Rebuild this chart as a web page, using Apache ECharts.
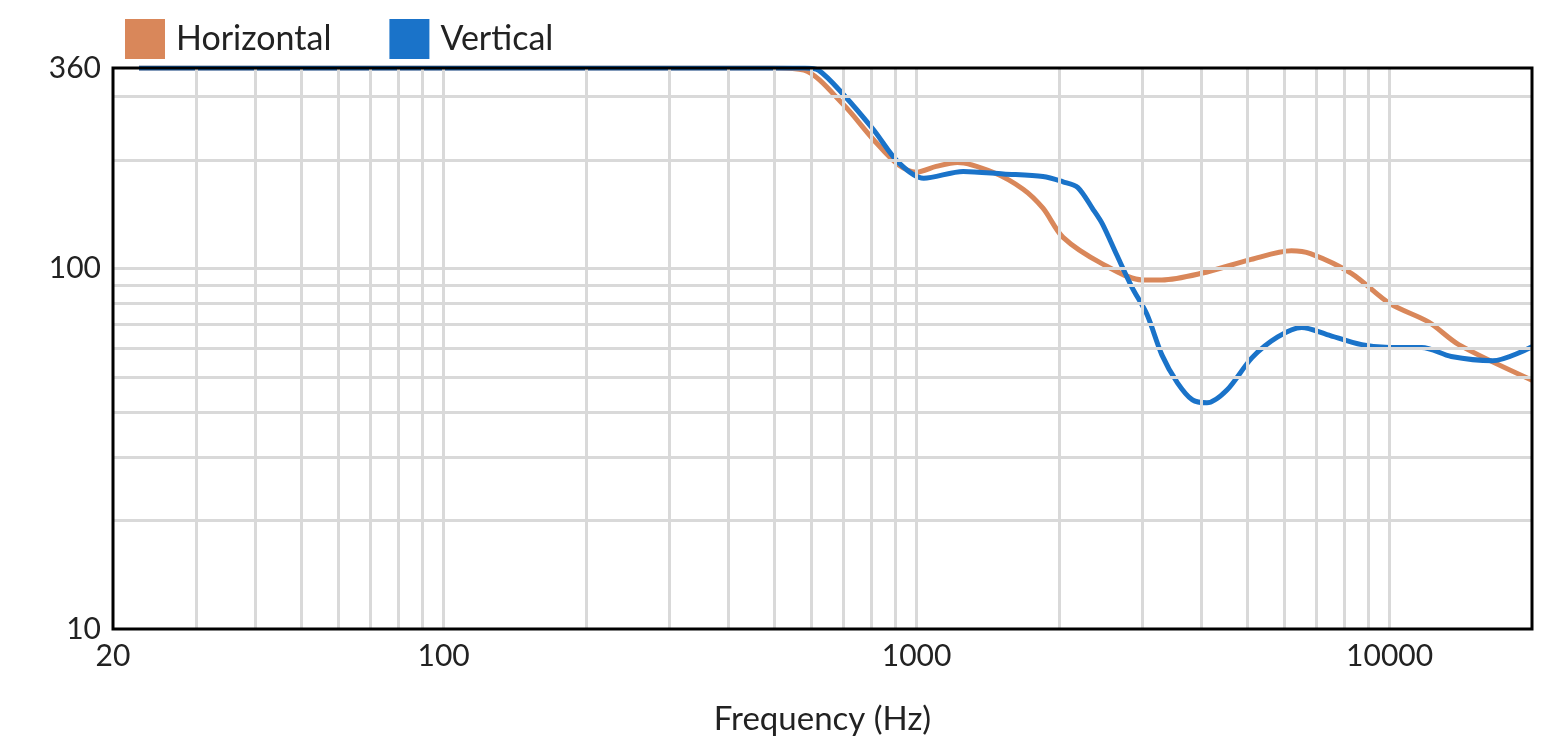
<!DOCTYPE html><html><head><meta charset="utf-8"><script src="https://cdn.jsdelivr.net/npm/echarts@6/dist/echarts.min.js"></script></head><body style="margin:0"><div id="c" style="width:1561px;height:741px"></div><script>
const horizontal=[[22.7,360],[500,360],[578,355],[700,285],[810,228],[915,194],[1000,185],[1100,192],[1220,197],[1450,185],[1680,166],[1850,147],[2040,122],[2470,103],[3000,93],[3300,93],[4000,97],[5100,106],[6200,112],[6800,110],[8300,97],[10000,80],[12100,71],[14000,61.5],[20000,49]];
const vertical=[[22.7,360],[580,360],[620,355],[700,304],[810,243],[915,197],[1035,178],[1255,186],[1525,183],[1850,180],[2040,174],[2190,168],[2360,146],[2470,133],[2650,109],[2850,89],[3070,74.5],[3300,57.6],[3560,48.2],[3830,43.2],[4110,42.4],[4530,46],[5120,56.6],[5800,64.6],[6520,68.6],[7370,65.6],[8730,61.5],[10000,60.4],[11700,60.4],[13500,57],[16500,55.5],[20000,60.7]];
const xGrid=[30,40,50,60,70,80,90,100,200,300,400,500,600,700,800,900,1000,2000,3000,4000,5000,6000,7000,8000,9000,10000];
const yGrid=[20,30,40,50,60,70,80,90,100,200,300];
const xTickLabels=[20,100,1000,10000];
const yTickLabels=[10,100,360];
const F='Lato, "DejaVu Sans", sans-serif';
const gl={color:'#d9d9d9',width:3,type:'solid'};
const c=echarts.init(document.getElementById('c'));
c.setOption({animation:false,
legend:{left:120,top:14,itemWidth:40,itemHeight:40,itemGap:58,textStyle:{fontSize:34,fontFamily:F,color:'#222',padding:[0,0,0,6]},data:[{name:'Horizontal',icon:'rect'},{name:'Vertical',icon:'rect'}]},
grid:{left:113,right:29,top:68,bottom:104,show:true,borderColor:'#000',borderWidth:3,z:10},
xAxis:{type:'log',min:20,max:20000,axisLabel:{show:false},axisTick:{show:false},splitLine:{show:false},axisLine:{show:false},name:'Frequency (Hz)',nameLocation:'middle',nameGap:74,nameTextStyle:{fontSize:33,fontFamily:F,color:'#222'}},
yAxis:{type:'log',min:10,max:360,axisLabel:{show:false},axisTick:{show:false},splitLine:{show:false},axisLine:{show:false}},
series:[
{type:'line',data:[],silent:true,markLine:{silent:true,symbol:'none',animation:false,lineStyle:gl,label:{show:false},data:xGrid.map(v=>({xAxis:v})).concat(yGrid.map(v=>({yAxis:v})))}},
{type:'line',data:[],silent:true,markLine:{silent:true,symbol:'none',animation:false,lineStyle:{color:'rgba(0,0,0,0)',width:1},label:{show:true,position:'start',fontSize:30,fontFamily:F,color:'#222',formatter:p=>String(p.value),distance:12},data:xTickLabels.map(v=>({xAxis:v})).concat(yTickLabels.map(v=>({yAxis:v})))}},
{name:'Horizontal',type:'line',smooth:0.3,symbol:'none',data:horizontal,lineStyle:{color:'#d9875a',width:5},itemStyle:{color:'#d9875a'},z:3},
{name:'Vertical',type:'line',smooth:0.3,symbol:'none',data:vertical,lineStyle:{color:'#1a73c9',width:5},itemStyle:{color:'#1a73c9'},z:4}
]});
</script></body></html>
